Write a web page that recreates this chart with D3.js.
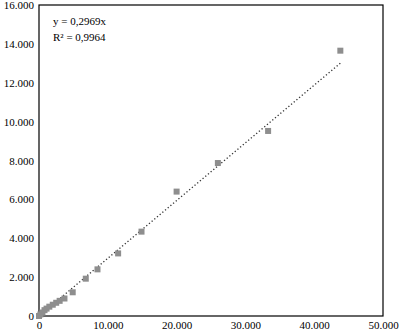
<!DOCTYPE html>
<html>
<head>
<meta charset="utf-8">
<script src="https://cdn.jsdelivr.net/npm/d3@7"></script>
<style>
  body { margin: 0; background: #fff; }
  text { font-family: "Liberation Serif", "DejaVu Serif", serif; font-size: 11px; fill: #000; }
</style>
</head>
<body>
<div id="chart"></div>
<script>
// measured points (x, y)
var xVals = [0, 200, 500, 800, 1100, 1500, 2000, 2500, 3000, 3700, 4900, 6800, 8500, 11500, 14900, 20000, 26000, 33300, 43800];
var yVals = [0, 80, 180, 300, 380, 480, 580, 680, 780, 900, 1220, 1920, 2400, 3220, 4340, 6400, 7870, 9520, 13650];
var slope = 0.2969;
var eqLabels = ["y = 0,2969x", "R² = 0,9964"];
var xTicks = [0, 10000, 20000, 30000, 40000, 50000];
var yTicks = [0, 2000, 4000, 6000, 8000, 10000, 12000, 14000, 16000];

var width = 400, height = 332;
var plotL = 39, plotR = 383, plotT = 5, plotB = 316;

var fmt = function(v) { return v === 0 ? "0" : d3.format(",")(v).replace(/,/g, "."); };

var svg = d3.select("#chart").append("svg")
  .attr("width", width)
  .attr("height", height);

var x = d3.scaleLinear().domain([0, 50000]).range([plotL, plotR]);
var y = d3.scaleLinear().domain([0, 16000]).range([plotB, plotT]);

// frame
svg.append("rect")
  .attr("x", plotL).attr("y", plotT)
  .attr("width", plotR - plotL).attr("height", plotB - plotT)
  .attr("fill", "none").attr("stroke", "#000").attr("stroke-width", 1.2);

// axes
var xAxis = svg.append("g")
  .attr("transform", "translate(0," + plotB + ")")
  .call(d3.axisBottom(x).tickValues(xTicks).tickSize(0).tickPadding(5).tickFormat(fmt));
xAxis.select(".domain").remove();
xAxis.selectAll("text").style("font-family", "Liberation Serif, serif").style("font-size", "11px");

var yAxis = svg.append("g")
  .attr("transform", "translate(" + plotL + ",0)")
  .call(d3.axisLeft(y).tickValues(yTicks).tickSize(0).tickPadding(5).tickFormat(fmt));
yAxis.select(".domain").remove();
yAxis.selectAll("text").style("font-family", "Liberation Serif, serif").style("font-size", "11px");

// trend line
var xMax = d3.max(xVals);
svg.append("line")
  .attr("x1", x(0)).attr("y1", y(0))
  .attr("x2", x(xMax)).attr("y2", y(slope * xMax))
  .attr("stroke", "#333").attr("stroke-width", 1.3)
  .attr("stroke-dasharray", "1.3,2.2");

// markers
var pts = xVals.map(function(v, i) { return { x: v, y: yVals[i] }; });
svg.selectAll(".pt")
  .data(pts)
  .enter()
  .append("rect")
  .attr("class", "pt")
  .attr("x", function(d) { return x(d.x) - 3; })
  .attr("y", function(d) { return y(d.y) - 3; })
  .attr("width", 6)
  .attr("height", 6)
  .attr("fill", "#8e8e8e");

// equation
svg.selectAll(".eq")
  .data(eqLabels)
  .enter()
  .append("text")
  .attr("class", "eq")
  .attr("x", 53)
  .attr("y", function(d, i) { return 25 + i * 16; })
  .text(function(d) { return d; });
</script>
</body>
</html>
